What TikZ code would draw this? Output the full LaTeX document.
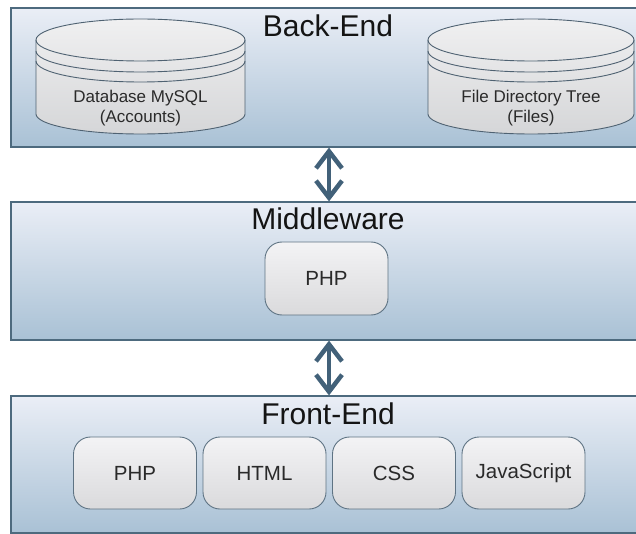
\documentclass[tikz,border=0pt]{standalone}
\usepackage{fontspec}
\setmainfont{Liberation Sans}
\usetikzlibrary{arrows.meta}
\definecolor{boxborder}{HTML}{4D6A7E}
\definecolor{boxtop}{HTML}{EAEEF6}
\definecolor{boxbot}{HTML}{A9C1D5}
\definecolor{innertop}{HTML}{F3F3F5}
\definecolor{innerbot}{HTML}{DADADC}
\definecolor{innerborder}{HTML}{5E7383}
\definecolor{cyltop}{HTML}{F0F0F1}
\definecolor{cylbot}{HTML}{D5D6D8}
\definecolor{cylborder}{HTML}{4F6272}
\definecolor{arrowcol}{HTML}{426179}
\definecolor{titlecol}{HTML}{141414}
\definecolor{textcol}{HTML}{2A2A2A}
\tikzset{
  layerbox/.style={draw=boxborder, line width=1.2pt, top color=boxtop, bottom color=boxbot,
    minimum width=626pt, minimum height=139pt, inner sep=0pt},
  layertitle/.style={anchor=base, text=titlecol, font=\fontsize{30}{34}\selectfont, inner sep=0pt},
  techbox/.style={draw=innerborder, line width=0.9pt, top color=innertop, bottom color=innerbot,
    rounded corners=17pt, minimum width=123pt, minimum height=72pt, inner sep=0pt,
    text=textcol, font=\fontsize{20.5}{24}\selectfont},
  cylbody/.style={draw=cylborder, line width=0.9pt, top color=cyltop, bottom color=cylbot},
  cylline/.style={draw=cylborder, line width=0.9pt},
  cyltext/.style={align=center, text=textcol, font=\fontsize{17}{20}\selectfont, inner sep=0pt},
  dblarrow/.style={draw=arrowcol, line width=4.5pt,
    {Straight Barb[length=17pt,width=26pt]}-{Straight Barb[length=17pt,width=26pt]}}
}
\begin{document}
\begin{tikzpicture}[x=1pt,y=-1pt]
\useasboundingbox (0,0) rectangle (636,534);
% layer boxes
\node[layerbox] (back) at (324,77.5) {};
\node[layerbox, minimum height=138pt] (mid) at (324,271) {};
\node[layerbox, minimum height=137pt] (front) at (324,464.5) {};
% titles
\node[layertitle] (backtitle) at (328,37) {Back-End};
\node[layertitle] (midtitle) at (328,230) {Middleware};
\node[layertitle] (fronttitle) at (328,424) {Front-End};
% cylinders
\foreach \cx/\rx/\nm in {140.5/104.5/db, 531/103/fs}{
  \path[cylbody] (\cx-\rx,40) -- (\cx-\rx,114)
    arc[start angle=180,end angle=360,x radius=\rx pt,y radius=20pt]
    -- (\cx+\rx,40)
    arc[start angle=0,end angle=180,x radius=\rx pt,y radius=21pt] -- cycle;
  \draw[cylline] (\cx-\rx,40) arc[start angle=180,end angle=360,x radius=\rx pt,y radius=21pt];
  \draw[cylline] (\cx-\rx,51) arc[start angle=180,end angle=360,x radius=\rx pt,y radius=21pt];
  \draw[cylline] (\cx-\rx,61) arc[start angle=180,end angle=360,x radius=\rx pt,y radius=21pt];
}
\node[cyltext] (dbtext) at (140.5,108) {Database MySQL\\(Accounts)};
\node[cyltext] (fstext) at (531,108) {File Directory Tree\\(Files)};
% middleware
\node[techbox, minimum height=73pt] (midphp) at (326.5,278.5) {PHP};
% front-end
\node[techbox] (fphp) at (135,473) {PHP};
\node[techbox] (fhtml) at (264.5,473) {HTML};
\node[techbox] (fcss) at (394,473) {CSS};
\node[techbox] (fjs) at (523.5,473) {JavaScript};
% arrows
\coordinate (ax) at (329,0);
\draw[dblarrow] (back.south -| ax) -- (mid.north -| ax);
\draw[dblarrow] (mid.south -| ax) -- (front.north -| ax);
\end{tikzpicture}
\end{document}
